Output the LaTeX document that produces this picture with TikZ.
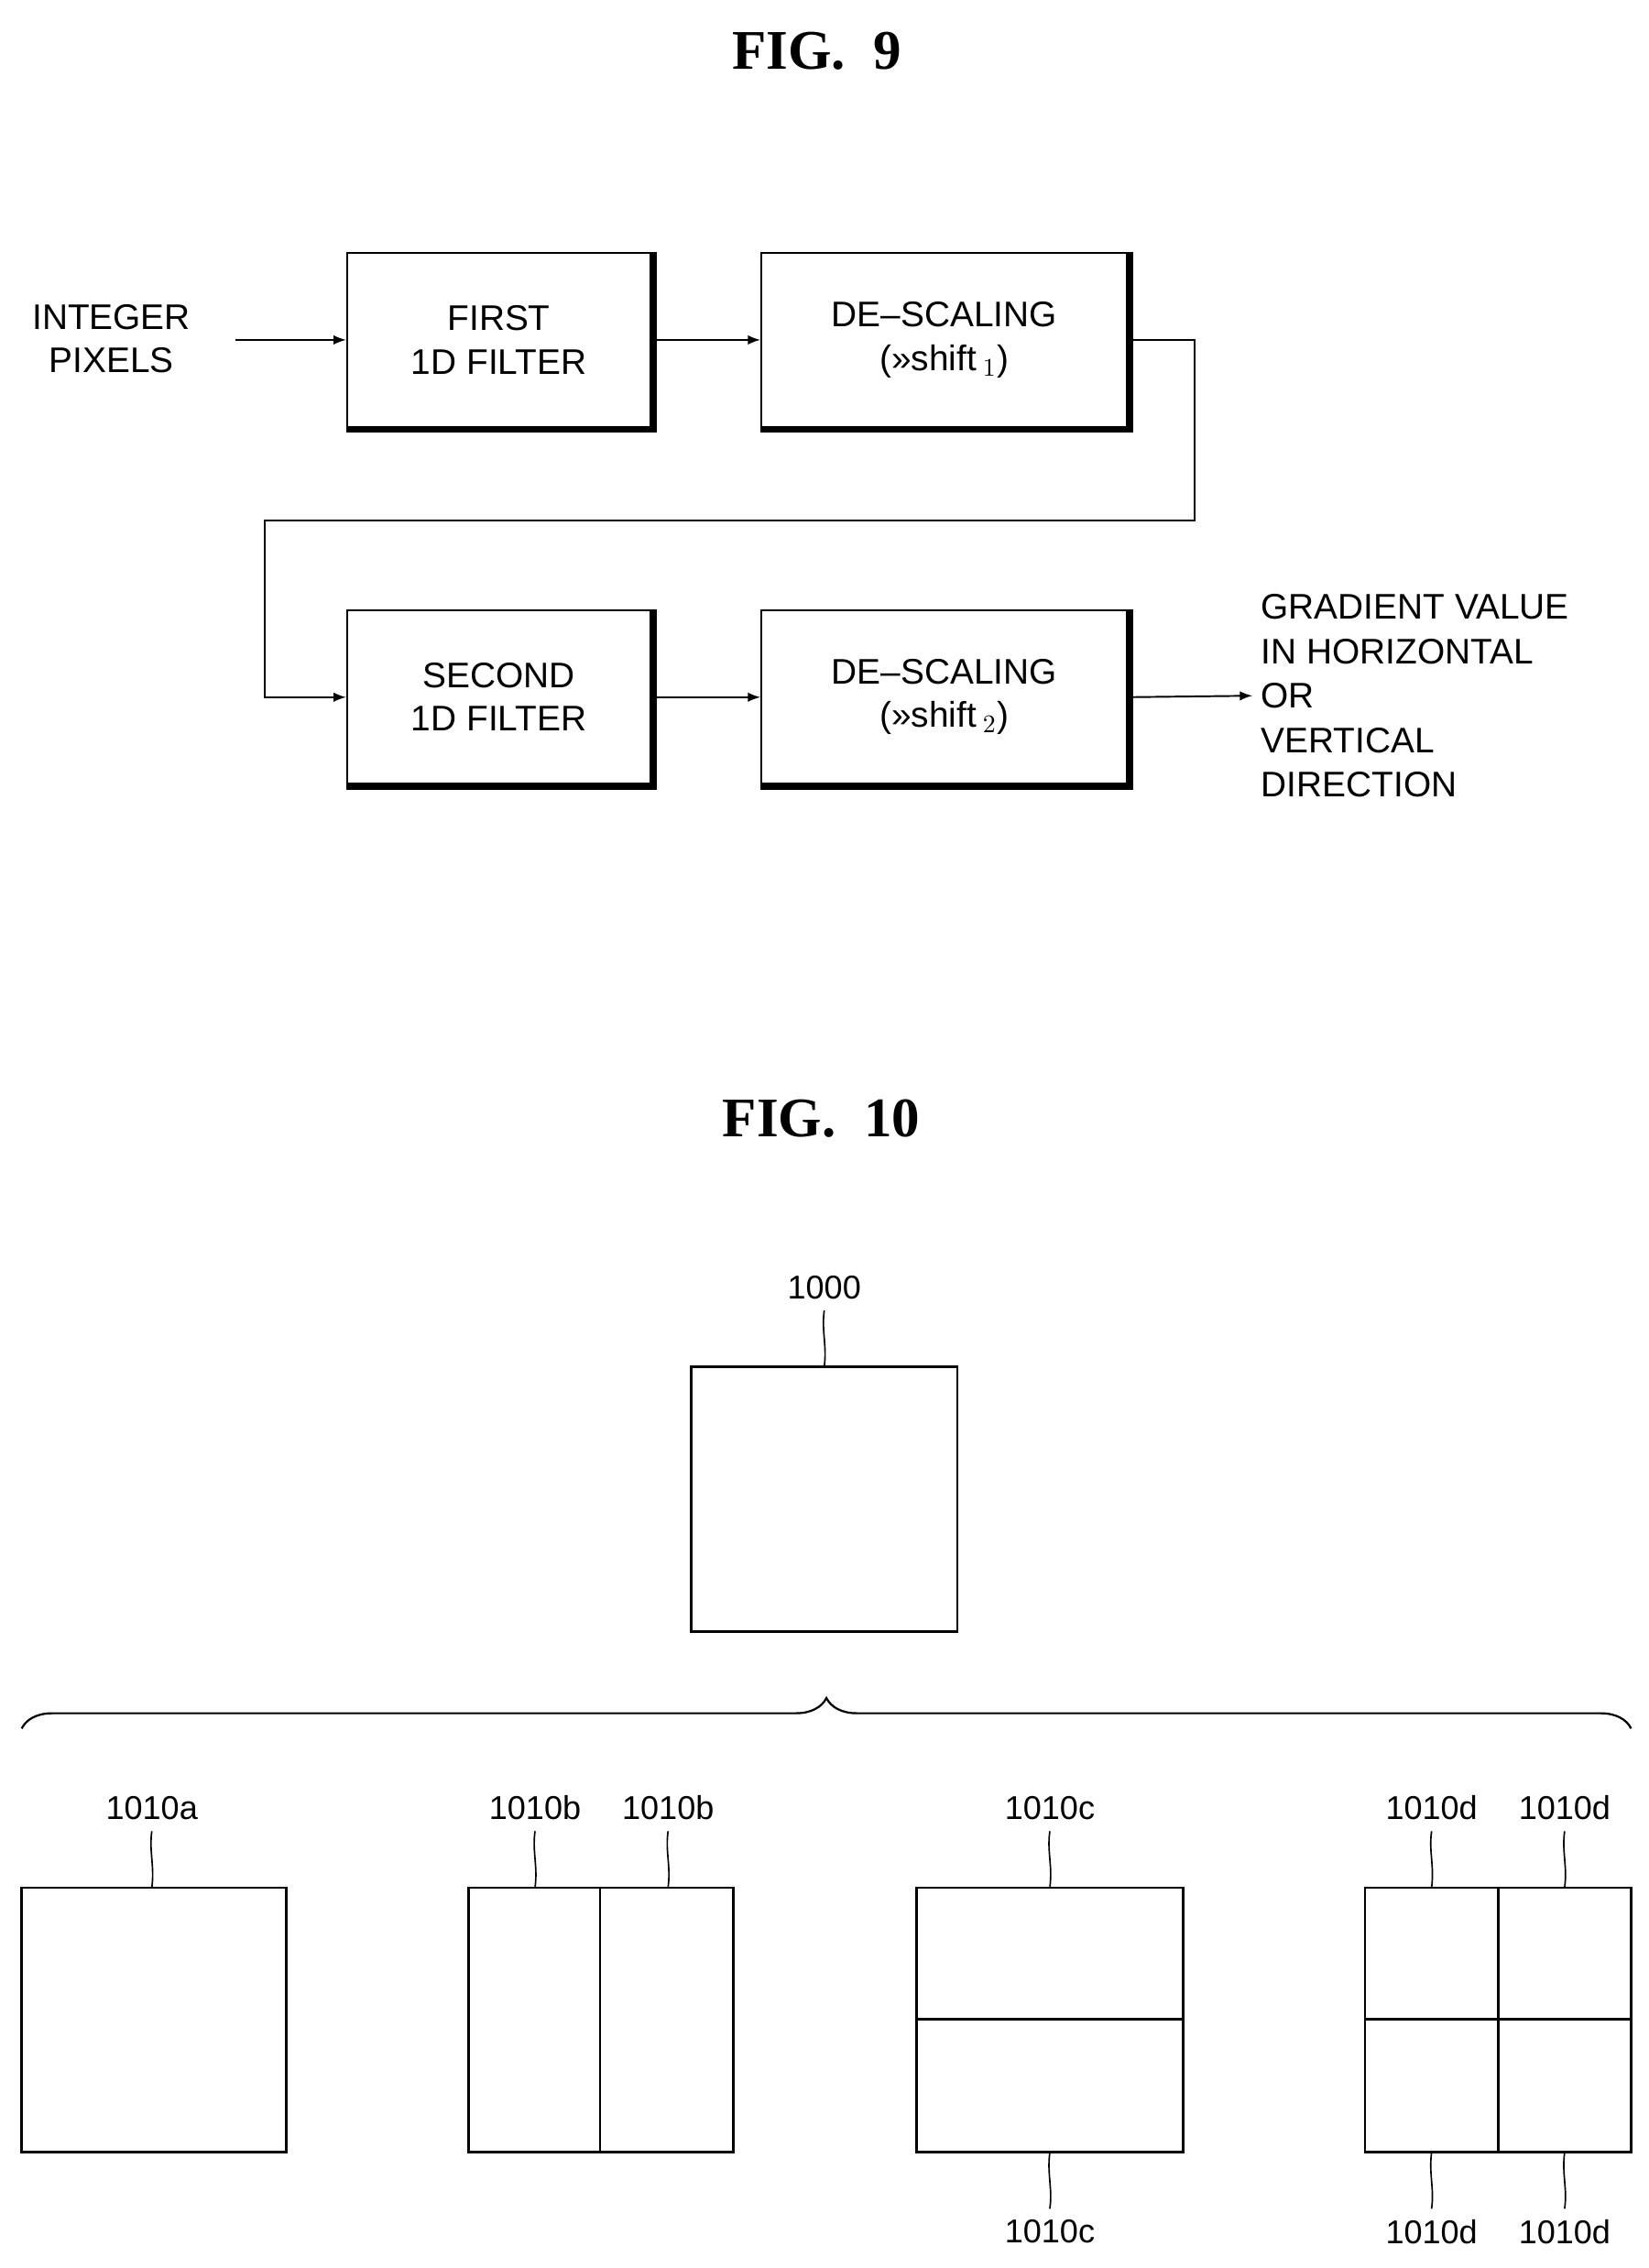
\documentclass[tikz,border=0pt]{standalone}
\usepackage{fontspec}
\setmainfont{Liberation Sans}
\newfontfamily\figfont{Liberation Serif}
\usetikzlibrary{decorations.pathreplacing}

\tikzset{
  blk/.style={draw, line width=0.8pt, minimum height=2.4cm, align=center, font=\fontsize{14}{17}\selectfont},
  lbl/.style={font=\fontsize{13}{16}\selectfont, inner sep=1pt},
  flow/.style={->, >=latex, line width=0.7pt},
  fig/.style={font=\figfont\bfseries\fontsize{22}{26}\selectfont},
  cell/.style={draw, line width=1pt},
  lead/.style={line width=0.6pt}
}

\newcommand{\boxshadow}[1]{%
  \draw[line width=2pt] ([xshift=1pt]#1.north east) -- ([xshift=1pt,yshift=-1pt]#1.south east) -- ([yshift=-1pt]#1.south west);}

\begin{document}
\begin{tikzpicture}[x=0.02cm, y=-0.02cm]
\useasboundingbox (0,0) rectangle (1140,1568);

% FIG. 9
\node[fig] (t9) at (565,35) {FIG.~~9};

\node[blk, minimum width=4.2cm] (f1) at (345,235) {FIRST\\1D FILTER};
\node[blk, minimum width=5.06cm] (d1) at (653,235) {DE--SCALING\\(>>shift$\,_1$)};
\node[blk, minimum width=4.2cm] (f2) at (345,482) {SECOND\\1D FILTER};
\node[blk, minimum width=5.06cm] (d2) at (653,482) {DE--SCALING\\(>>shift$\,_2$)};
\foreach \b in {f1,d1,f2,d2} {\boxshadow{\b}}

\node[align=center, font=\fontsize{14}{17}\selectfont] (in) at (77,234) {INTEGER\\PIXELS};
\node[align=left, anchor=west, font=\fontsize{14}{17.5}\selectfont] (out) at (866,481) {GRADIENT VALUE\\IN HORIZONTAL\\OR\\VERTICAL\\DIRECTION};

\coordinate (inr) at (163,235);
\draw[flow] (inr) -- (f1.west);
\draw[flow] (f1) -- (d1);
\draw[flow] (d1.east) -- (826,235) -- (826,360) -- (183,360) |- (f2.west);
\draw[flow] (f2) -- (d2);
\draw[flow] (d2.east) -- (out.west);

% FIG. 10
\node[fig] (t10) at (568,773) {FIG.~~10};

\draw[cell] (478,945) rectangle (662,1128);
\node[lbl] (l0) at (570,890) {1000};
\draw[lead] (570,906) .. controls (568,920) and (572,930) .. (570,945);

\draw[line width=0.8pt, decorate, decoration={brace, amplitude=12pt}] (15,1195) -- (1128,1195);

% blocks
\draw[cell] (15,1305) rectangle (198,1488);
\draw[cell] (324,1305) rectangle (507,1488) (415,1305) -- (415,1488);
\draw[cell] (634,1305) rectangle (818,1488) (634,1396) -- (818,1396);
\draw[cell] (944,1305) rectangle (1128,1488) (1036,1305) -- (1036,1488) (944,1396) -- (1128,1396);

% top labels
\foreach \x/\t in {105/1010a, 370/1010b, 462/1010b, 726/1010c, 990/1010d, 1082/1010d} {
  \node[lbl] at (\x,1250) {\t};
  \draw[lead] (\x,1266) .. controls (\x-2,1280) and (\x+2,1290) .. (\x,1305);
}
% bottom labels
\foreach \x/\t in {726/1010c, 990/1010d, 1082/1010d} {
  \node[lbl] at (\x,1543) {\t};
  \draw[lead] (\x,1488) .. controls (\x-2,1503) and (\x+2,1513) .. (\x,1527);
}
\end{tikzpicture}
\end{document}
